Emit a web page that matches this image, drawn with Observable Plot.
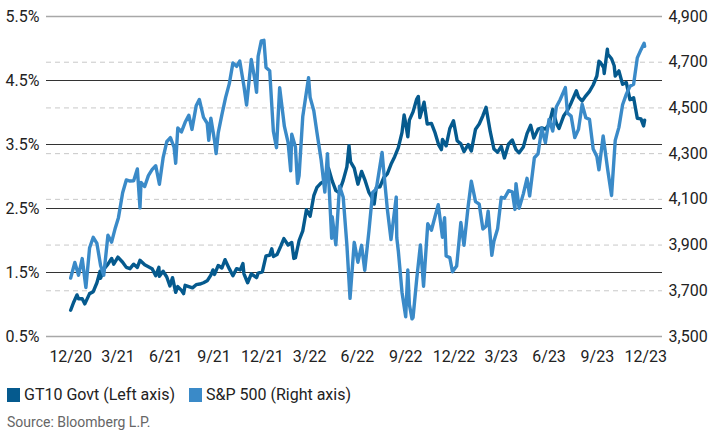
<!DOCTYPE html>
<html>
<head>
<meta charset="utf-8">
<script src="https://cdn.jsdelivr.net/npm/d3@7"></script>
<script src="https://cdn.jsdelivr.net/npm/@observablehq/plot@0.6"></script>
<style>
  html, body { margin: 0; padding: 0; background: #fff; }
  body { width: 711px; height: 432px; overflow: hidden; font-family: Roboto, "Noto Sans", sans-serif; color: #222; }
  .legend { display: flex; align-items: center; margin: 13px 0 0 7px; font-size: 16px; line-height: 20px; }
  .legend .item { display: flex; align-items: center; margin-right: 14px; }
  .legend .sw { width: 13px; height: 14px; margin-right: 4px; }
  .source { margin: 8px 0 0 7px; font-size: 14px; line-height: 18px; color: #666; }
</style>
</head>
<body>
<div id="chart"></div>
<div class="legend">
  <div class="item"><span class="sw" style="background:#055a8e"></span>GT10 Govt (Left axis)</div>
  <div class="item"><span class="sw" style="background:#3a8ac8"></span>S&amp;P 500 (Right axis)</div>
</div>
<div class="source">Source: Bloomberg L.P.</div>
<script>
// ---- Data ----
const gtDates = ["2020-12-31","2021-01-06","2021-01-12","2021-01-15","2021-01-22","2021-01-27","2021-02-05","2021-02-12","2021-02-19","2021-02-25","2021-02-26","2021-03-05","2021-03-12","2021-03-19","2021-03-23","2021-03-31","2021-04-09","2021-04-16","2021-04-23","2021-04-30","2021-05-07","2021-05-12","2021-05-21","2021-05-28","2021-06-04","2021-06-11","2021-06-17","2021-06-18","2021-06-25","2021-07-02","2021-07-08","2021-07-13","2021-07-19","2021-07-23","2021-07-30","2021-08-03","2021-08-06","2021-08-13","2021-08-20","2021-08-27","2021-09-03","2021-09-10","2021-09-17","2021-09-24","2021-09-28","2021-10-01","2021-10-08","2021-10-15","2021-10-21","2021-10-29","2021-11-05","2021-11-12","2021-11-19","2021-11-24","2021-11-26","2021-12-03","2021-12-10","2021-12-20","2021-12-23","2021-12-31","2022-01-07","2022-01-14","2022-01-18","2022-01-21","2022-01-28","2022-02-04","2022-02-10","2022-02-18","2022-02-25","2022-03-01","2022-03-04","2022-03-11","2022-03-18","2022-03-25","2022-04-01","2022-04-08","2022-04-14","2022-04-22","2022-04-29","2022-05-06","2022-05-13","2022-05-20","2022-05-26","2022-06-03","2022-06-10","2022-06-14","2022-06-17","2022-06-24","2022-07-01","2022-07-08","2022-07-15","2022-07-22","2022-07-29","2022-08-01","2022-08-05","2022-08-12","2022-08-19","2022-08-26","2022-09-02","2022-09-09","2022-09-16","2022-09-23","2022-09-27","2022-09-30","2022-10-04","2022-10-07","2022-10-14","2022-10-21","2022-10-24","2022-10-27","2022-11-04","2022-11-10","2022-11-18","2022-11-25","2022-12-02","2022-12-07","2022-12-09","2022-12-16","2022-12-23","2022-12-30","2023-01-06","2023-01-13","2023-01-19","2023-01-27","2023-02-02","2023-02-10","2023-02-17","2023-02-24","2023-03-02","2023-03-10","2023-03-17","2023-03-24","2023-03-31","2023-04-06","2023-04-14","2023-04-21","2023-04-28","2023-05-04","2023-05-12","2023-05-19","2023-05-26","2023-06-01","2023-06-09","2023-06-16","2023-06-23","2023-06-30","2023-07-07","2023-07-14","2023-07-19","2023-07-28","2023-08-04","2023-08-11","2023-08-21","2023-08-25","2023-09-01","2023-09-08","2023-09-15","2023-09-22","2023-09-29","2023-10-03","2023-10-06","2023-10-12","2023-10-13","2023-10-19","2023-10-20","2023-10-27","2023-11-01","2023-11-03","2023-11-10","2023-11-17","2023-11-24","2023-12-01","2023-12-08","2023-12-15","2023-12-22","2023-12-27","2023-12-29"];
const gtValues = [0.91,1.04,1.15,1.09,1.09,1.01,1.17,1.20,1.34,1.52,1.41,1.56,1.63,1.72,1.63,1.74,1.66,1.58,1.56,1.63,1.58,1.69,1.62,1.59,1.56,1.45,1.58,1.44,1.52,1.43,1.29,1.42,1.19,1.28,1.22,1.17,1.30,1.28,1.26,1.31,1.32,1.34,1.37,1.46,1.54,1.47,1.61,1.57,1.70,1.56,1.45,1.56,1.54,1.64,1.48,1.34,1.48,1.42,1.49,1.51,1.76,1.77,1.87,1.75,1.78,1.91,2.03,1.93,1.97,1.72,1.73,2.00,2.15,2.48,2.38,2.70,2.83,2.90,2.93,3.13,2.93,2.78,2.75,2.94,3.15,3.48,3.23,3.13,2.88,3.08,2.93,2.75,2.65,2.57,2.83,2.84,2.98,3.04,3.19,3.31,3.45,3.69,3.96,3.83,3.62,3.88,4.01,4.21,4.25,3.92,4.16,3.82,3.83,3.68,3.49,3.42,3.58,3.48,3.75,3.87,3.56,3.51,3.39,3.50,3.40,3.74,3.82,3.95,4.08,3.70,3.43,3.38,3.47,3.29,3.51,3.57,3.42,3.37,3.46,3.67,3.80,3.60,3.74,3.76,3.74,3.81,4.05,3.83,3.75,3.95,4.03,4.15,4.34,4.24,4.18,4.26,4.33,4.43,4.57,4.80,4.78,4.70,4.61,4.99,4.91,4.84,4.73,4.57,4.65,4.44,4.47,4.20,4.23,3.91,3.90,3.79,3.88];

const spxDates = ["2020-12-31","2021-01-08","2021-01-15","2021-01-22","2021-01-29","2021-02-05","2021-02-12","2021-02-19","2021-02-26","2021-03-04","2021-03-12","2021-03-19","2021-03-26","2021-04-01","2021-04-09","2021-04-16","2021-04-23","2021-04-30","2021-05-07","2021-05-12","2021-05-14","2021-05-21","2021-05-28","2021-06-04","2021-06-11","2021-06-18","2021-06-25","2021-07-02","2021-07-09","2021-07-16","2021-07-19","2021-07-23","2021-07-30","2021-08-06","2021-08-13","2021-08-19","2021-08-27","2021-09-02","2021-09-10","2021-09-17","2021-09-20","2021-09-24","2021-10-01","2021-10-04","2021-10-08","2021-10-15","2021-10-22","2021-10-29","2021-11-05","2021-11-12","2021-11-18","2021-11-26","2021-12-01","2021-12-10","2021-12-17","2021-12-20","2021-12-23","2021-12-29","2022-01-03","2022-01-07","2022-01-14","2022-01-21","2022-01-27","2022-02-02","2022-02-11","2022-02-18","2022-02-23","2022-02-25","2022-03-04","2022-03-08","2022-03-11","2022-03-18","2022-03-29","2022-04-01","2022-04-08","2022-04-14","2022-04-22","2022-04-29","2022-05-04","2022-05-12","2022-05-13","2022-05-20","2022-05-27","2022-06-03","2022-06-10","2022-06-16","2022-06-24","2022-07-01","2022-07-08","2022-07-14","2022-07-22","2022-07-29","2022-08-05","2022-08-16","2022-08-19","2022-08-26","2022-09-02","2022-09-12","2022-09-13","2022-09-16","2022-09-23","2022-09-30","2022-10-04","2022-10-07","2022-10-12","2022-10-14","2022-10-21","2022-10-28","2022-11-03","2022-11-11","2022-11-18","2022-11-25","2022-12-01","2022-12-09","2022-12-13","2022-12-16","2022-12-23","2022-12-28","2023-01-05","2023-01-13","2023-01-19","2023-01-27","2023-02-02","2023-02-10","2023-02-17","2023-02-24","2023-03-02","2023-03-06","2023-03-13","2023-03-17","2023-03-24","2023-03-31","2023-04-06","2023-04-14","2023-04-21","2023-04-26","2023-04-28","2023-05-04","2023-05-12","2023-05-19","2023-05-24","2023-06-02","2023-06-09","2023-06-16","2023-06-23","2023-06-30","2023-07-07","2023-07-14","2023-07-21","2023-07-31","2023-08-04","2023-08-11","2023-08-18","2023-08-25","2023-09-01","2023-09-08","2023-09-15","2023-09-22","2023-09-29","2023-10-03","2023-10-11","2023-10-20","2023-10-27","2023-11-03","2023-11-10","2023-11-17","2023-11-24","2023-12-01","2023-12-08","2023-12-15","2023-12-22","2023-12-28","2023-12-29"];
const spxValues = [3756,3824,3768,3841,3714,3887,3934,3907,3811,3768,3943,3913,3975,4020,4129,4185,4180,4181,4233,4063,4174,4156,4204,4230,4247,4166,4281,4352,4370,4327,4258,4412,4395,4437,4468,4406,4509,4537,4459,4433,4358,4455,4357,4300,4391,4471,4545,4605,4697,4682,4705,4595,4513,4712,4620,4568,4726,4793,4796,4677,4663,4398,4326,4589,4419,4349,4225,4385,4329,4170,4204,4463,4632,4546,4488,4392,4272,4132,4300,3930,4024,3901,4158,4109,3901,3667,3912,3825,3899,3790,3962,4130,4145,4305,4228,4058,3924,4110,3932,3873,3693,3586,3791,3640,3577,3583,3752,3901,3720,3993,3965,4026,4077,3934,4020,3852,3845,3783,3808,3999,3899,4071,4179,4090,4079,3970,3982,4048,3855,3917,3971,4109,4105,4138,4133,4056,4169,4061,4124,4192,4115,4282,4299,4410,4348,4450,4399,4505,4536,4589,4478,4464,4370,4406,4516,4457,4450,4320,4288,4229,4377,4224,4117,4358,4415,4514,4559,4595,4604,4719,4755,4783,4770];

const leftTicks = [0.5, 1.5, 2.5, 3.5, 4.5, 5.5];
const rightTicks = [3500, 3700, 3900, 4100, 4300, 4500, 4700, 4900];
const xTickDates = ["2020-12-31","2021-03-31","2021-06-30","2021-09-30","2021-12-31","2022-03-31","2022-06-30","2022-09-30","2022-12-31","2023-03-31","2023-06-30","2023-09-30","2023-12-31"];
const xTickLabels = ["12/20","3/21","6/21","9/21","12/21","3/22","6/22","9/22","12/22","3/23","6/23","9/23","12/23"];

// ---- Build tables ----
const gt = gtDates.map((d, i) => ({date: new Date(d), v: gtValues[i]}));
const spx = spxDates.map((d, i) => ({date: new Date(d), v: spxValues[i]}));
const spxToY = d3.scaleLinear([3500, 4900], [0.5, 5.5]);
const tickDates = xTickDates.map(d => new Date(d));
const labelOf = new Map(tickDates.map((d, i) => [+d, xTickLabels[i]]));

const DARK = "#055a8e", LIGHT = "#3a8ac8";

const chart = Plot.plot({
  width: 711,
  height: 372,
  marginTop: 16,
  marginBottom: 36,
  marginLeft: 46,
  marginRight: 49,
  style: {fontFamily: "Roboto, 'Noto Sans', sans-serif", fontSize: "16px", color: "#222", background: "#fff"},
  x: {type: "utc", domain: [new Date("2020-11-15"), new Date("2024-02-01")]},
  y: {domain: [0.5, 5.5]},
  marks: [
    Plot.ruleY(rightTicks.slice(1, -1).map(spxToY), {stroke: "#c8c8c8", strokeWidth: 1, strokeDasharray: "5,4"}),
    Plot.ruleY(leftTicks.slice(1, -1), {stroke: "#333", strokeWidth: 1.2}),
    Plot.ruleY([leftTicks[0], leftTicks[leftTicks.length - 1]], {stroke: "#a8a8a8", strokeWidth: 1.6}),
    Plot.line(gt, {x: "date", y: "v", stroke: DARK, strokeWidth: 3.4, strokeLinejoin: "round", strokeLinecap: "round"}),
    Plot.line(spx, {x: "date", y: d => spxToY(d.v), stroke: LIGHT, strokeWidth: 3.4, strokeLinejoin: "round", strokeLinecap: "round"}),
    Plot.axisY(leftTicks, {anchor: "left", tickSize: 0, tickPadding: 7, label: null, tickFormat: d => d.toFixed(1) + "%"}),
    Plot.axisY(rightTicks.map(spxToY), {anchor: "right", tickSize: 0, tickPadding: 6, label: null, tickFormat: d => d3.format(",")(Math.round(spxToY.invert(d)))}),
    Plot.axisX(tickDates, {anchor: "bottom", tickSize: 0, tickPadding: 14, label: null, tickFormat: d => labelOf.get(+d)})
  ]
});
document.getElementById("chart").appendChild(chart);
</script>
</body>
</html>
